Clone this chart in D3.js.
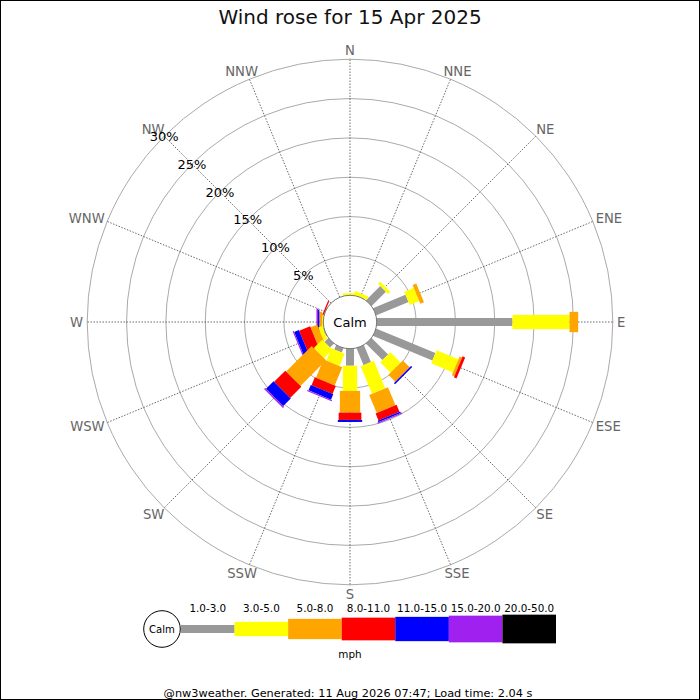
<!DOCTYPE html>
<html>
<head>
  <meta charset="utf-8">
  <style>
    body { margin: 0; background: #fff; }
    svg { display: block; font-family: "DejaVu Sans", sans-serif; }
  </style>
</head>
<body>
  <div id="rose"></div>
  <script src="https://cdn.jsdelivr.net/npm/d3@7"></script>
  <script>
    // directions, clockwise from N (percent of the day per speed range)
    var directions = ['N', 'NNE', 'NE', 'ENE', 'E', 'ESE', 'SE', 'SSE', 'S', 'SSW', 'SW', 'WSW', 'W', 'WNW', 'NW', 'NNW'];
    var ranges = ['1.0-3.0', '3.0-5.0', '5.0-8.0', '8.0-11.0', '11.0-15.0', '15.0-20.0', '20.0-50.0'];
    var rangeColors = ['#999999', '#ffff00', '#ffa500', '#ff0000', '#0000ff', '#a020f0', '#000000'];
    var pct1to3   = [0,    0.05, 2.55, 4.45, 17.25, 8.15, 2.95, 2.33, 2.16, 0.6, 0.7,  0.1,  0,    0.05, 0, 0];
    var pct3to5   = [0.25, 0.45, 0.4,  1.3,  7.25,  3.0,  1.85, 3.77, 3.2,  1.7, 1.5,  0.5,  0.15, 0,    0, 0];
    var pct5to8   = [0,    0,    0,    0.5,  1.1,   0.35, 1.2,  2.5,  2.76, 2.5, 4.6,  0.9,  0.35, 0,    0, 0];
    var pct8to11  = [0,    0,    0,    0,    0,     0.35, 0.05, 0.95, 0.93, 1.1, 2.0,  1.5,  0,    0.17, 0, 0];
    var pct11to15 = [0,    0,    0,    0,    0,     0,    0.2,  0.2,  0.26, 0.75, 1.35, 0.65, 0.17, 0,   0, 0];
    var pct15to20 = [0,    0,    0,    0,    0,     0,    0,    0.15, 0,    0.15, 0.2,  0.15, 0.2,  0,   0, 0];
    var pct20to50 = [0,    0,    0,    0,    0,     0,    0,    0,    0,    0,    0,    0,    0,    0,   0, 0];
    var gridTicks = [5, 10, 15, 20, 25, 30];
    var title = 'Wind rose for 15 Apr 2025';
    var footer = '@nw3weather. Generated: 11 Aug 2026 07:47; Load time: 2.04 s';

    var series = [pct1to3, pct3to5, pct5to8, pct8to11, pct11to15, pct15to20, pct20to50];
    var barWidths = [8, 14.3, 20.3, 22.7, 24.3, 26.7, 28.7];

    var width = 700, height = 700;
    var cx = 350, cy = 322;
    var calmR = 26.7;
    var r = d3.scaleLinear().domain([0, 30]).range([calmR, 262.8]);
    var angle = d3.scalePoint().domain(directions).range([0, 360 - 22.5]);

    var svg = d3.select('#rose').append('svg')
      .attr('width', width)
      .attr('height', height);

    svg.append('rect')
      .attr('x', 0.5).attr('y', 0.5)
      .attr('width', width - 1).attr('height', height - 1)
      .style('fill', '#fff')
      .style('stroke', '#000');

    svg.append('text')
      .attr('x', cx).attr('y', 24)
      .attr('text-anchor', 'middle')
      .style('font-size', '20px')
      .style('fill', '#111')
      .text(title);

    var g = svg.append('g').attr('transform', 'translate(' + cx + ',' + cy + ')');

    function pt(deg, rad) {
      var a = deg * Math.PI / 180;
      return [Math.sin(a) * rad, -Math.cos(a) * rad];
    }

    // rings
    g.selectAll('.ring')
      .data(gridTicks)
      .enter().append('circle')
      .attr('r', function (d) { return r(d); })
      .style('fill', 'none')
      .style('stroke', '#aaaaaa')
      .style('stroke-width', 1);

    // direction lines
    g.selectAll('.spoke')
      .data(directions)
      .enter().append('line')
      .attr('x1', 0).attr('y1', 0)
      .attr('x2', function (d) { return pt(angle(d), r(30))[0]; })
      .attr('y2', function (d) { return pt(angle(d), r(30))[1]; })
      .style('stroke', '#444')
      .style('stroke-width', 0.8)
      .style('stroke-dasharray', '1.5,1.5');

    // compass labels
    g.selectAll('.dirLabel')
      .data(directions)
      .enter().append('text')
      .style('font-size', '13.2px')
      .style('fill', '#666')
      .attr('text-anchor', 'middle')
      .text(function (d) { return d; })
      .each(function (d) {
        var a = angle(d) * Math.PI / 180;
        var w = this.getComputedTextLength();
        var p = pt(angle(d), 267);
        var x = p[0] + Math.sin(a) * w / 2;
        var y = p[1] - Math.cos(a) * 5 + 4.8;
        d3.select(this).attr('x', x).attr('y', y);
      });

    // bars, drawn in the order E, ENE, NE ... (anticlockwise), like the original
    var drawOrder = [];
    for (var k = 0; k < 16; k++) {
      drawOrder.push((4 - k + 16) % 16);
    }
    drawOrder.forEach(function (i) {
      var deg = angle(directions[i]);
      var cum = 0;
      var segs = [];
      series.forEach(function (s, j) {
        if (s[i] > 0) {
          segs.push({ from: cum, to: cum + s[i], j: j });
          cum += s[i];
        }
      });
      var dg = g.append('g').attr('transform', 'rotate(' + deg + ')');
      dg.selectAll('rect')
        .data(segs)
        .enter().append('rect')
        .attr('x', function (d) { return -barWidths[d.j] / 2; })
        .attr('width', function (d) { return barWidths[d.j]; })
        .attr('y', function (d) { return -r(d.to); })
        .attr('height', function (d) { return r(d.to) - (d.from === 0 ? 10 : r(d.from)); })
        .style('fill', function (d) { return rangeColors[d.j]; });
    });

    // calm circle
    g.append('circle')
      .attr('r', calmR)
      .style('fill', '#fff')
      .style('stroke', '#777')
      .style('stroke-width', 1);
    g.append('text')
      .attr('y', 4.7)
      .attr('text-anchor', 'middle')
      .style('font-size', '13px')
      .style('fill', '#000')
      .text('Calm');

    // percentage labels along NW
    g.selectAll('.tickLabel')
      .data(gridTicks)
      .enter().append('text')
      .attr('x', function (d) { return pt(315, r(d))[0]; })
      .attr('y', function (d) { return pt(315, r(d))[1] + 4.7; })
      .attr('text-anchor', 'middle')
      .style('font-size', '13px')
      .style('fill', '#000')
      .text(function (d) { return d + '%'; });

    // legend
    var legY = 629;
    var seg = d3.scaleBand().domain(ranges).range([181, 556]);
    var legend = svg.append('g');
    legend.selectAll('rect')
      .data(ranges)
      .enter().append('rect')
      .attr('x', function (d) { return seg(d); })
      .attr('width', seg.bandwidth())
      .attr('y', function (d, i) { return legY - barWidths[i] / 2; })
      .attr('height', function (d, i) { return barWidths[i]; })
      .style('fill', function (d, i) { return rangeColors[i]; });
    legend.selectAll('text.rng')
      .data(ranges)
      .enter().append('text')
      .attr('class', 'rng')
      .attr('x', function (d) { return seg(d) + seg.bandwidth() / 2; })
      .attr('y', 611.5)
      .attr('text-anchor', 'middle')
      .style('font-size', '10.4px')
      .style('fill', '#000')
      .text(function (d) { return d; });
    legend.append('circle')
      .attr('cx', 162).attr('cy', legY).attr('r', 18.3)
      .style('fill', '#fff')
      .style('stroke', '#000');
    legend.append('text')
      .attr('x', 162).attr('y', legY + 3.7)
      .attr('text-anchor', 'middle')
      .style('font-size', '10.1px')
      .text('Calm');
    legend.append('text')
      .attr('x', 350).attr('y', 658)
      .attr('text-anchor', 'middle')
      .style('font-size', '10.4px')
      .text('mph');

    svg.append('text')
      .attr('x', 348).attr('y', 697)
      .attr('text-anchor', 'middle')
      .style('font-size', '11.3px')
      .style('fill', '#000')
      .text(footer);
  </script>
</body>
</html>
